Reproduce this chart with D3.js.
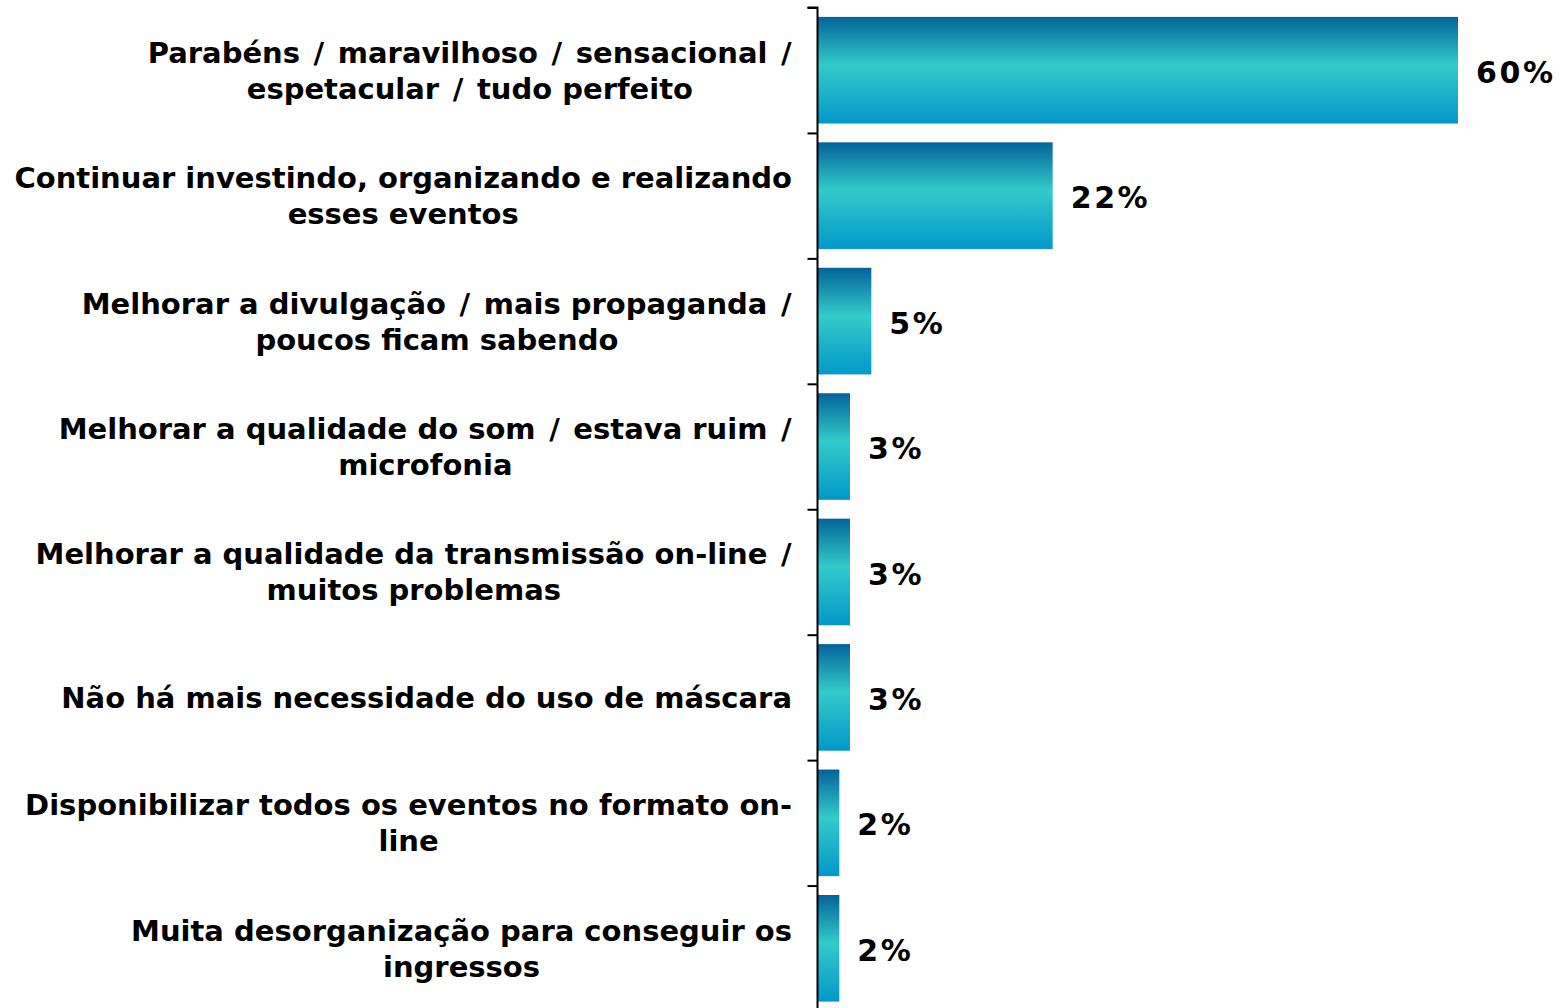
<!DOCTYPE html>
<html><head><meta charset="utf-8">
<script src="https://cdn.jsdelivr.net/npm/d3@7"></script>
<style>body{margin:0;background:#fff}svg{display:block}</style>
</head><body>
<script>
const categories = [
  ["Parabéns / maravilhoso / sensacional /", "espetacular / tudo perfeito"],
  ["Continuar investindo, organizando e realizando", "esses eventos"],
  ["Melhorar a divulgação / mais propaganda /", "poucos ficam sabendo"],
  ["Melhorar a qualidade do som / estava ruim /", "microfonia"],
  ["Melhorar a qualidade da transmissão on-line /", "muitos problemas"],
  ["Não há mais necessidade do uso de máscara"],
  ["Disponibilizar todos os eventos no formato on-", "line"],
  ["Muita desorganização para conseguir os", "ingressos"]
];
const values = [60, 22, 5, 3, 3, 3, 2, 2];
const valueLabels = ["60%", "22%", "5%", "3%", "3%", "3%", "2%", "2%"];

const W = 1560, H = 1008;
const svg = d3.select("body").append("svg").attr("width", W).attr("height", H);
const FONT = "'DejaVu Sans', Verdana, sans-serif";

const defs = svg.append("defs");
const grad = defs.append("linearGradient").attr("id", "barGrad")
  .attr("x1", 0).attr("y1", 0).attr("x2", 0).attr("y2", 1);
[[0, "#04639a"], [0.45, "#33cbca"], [1, "#0397ca"]].forEach(([o, c]) =>
  grad.append("stop").attr("offset", o).attr("stop-color", c));

const axisX = 818;
const x = d3.scaleLinear().domain([0, 60]).range([axisX, 1458]);
const y = d3.scaleBand().domain(d3.range(categories.length)).range([7.5, 1011]).paddingInner(0.15).paddingOuter(0.075);

svg.append("g").selectAll("rect").data(values).join("rect")
  .attr("x", axisX)
  .attr("y", (d, i) => y(i))
  .attr("width", d => x(d) - axisX)
  .attr("height", y.bandwidth())
  .attr("fill", "url(#barGrad)");

// axis
const yAxisScale = d3.scaleLinear().domain([0, categories.length]).range([7.5, 1011]);
const axis = d3.axisLeft(yAxisScale).tickValues(d3.range(categories.length + 1)).tickSize(10).tickFormat("");
const ag = svg.append("g").attr("transform", `translate(${axisX - 0.5},0)`).call(axis);
ag.select(".domain").attr("stroke", "#000").attr("stroke-width", 2).attr("d", `M-10,7.5H0V1011H-10`);
ag.selectAll(".tick line").attr("stroke", "#000").attr("stroke-width", 2);

// value labels
svg.append("g").selectAll("text").data(values).join("text")
  .attr("x", d => x(d) + 18)
  .attr("y", (d, i) => y(i) + y.bandwidth() / 2)
  .attr("dy", "0.42em")
  .attr("font-family", FONT).attr("font-weight", "bold").attr("font-size", 30)
  .attr("letter-spacing", 2.6)
  .attr("fill", "#000")
  .text((d, i) => valueLabels[i]);

// category labels
const lineH = 36;
const labelRight = 792;
const slashPad = 3.5;
categories.forEach((lines, i) => {
  const g = svg.append("g");
  const cy = y(i) + y.bandwidth() / 2;
  const y0 = cy - (lines.length - 1) * lineH / 2;
  const texts = lines.map((l, k) => {
    const t = g.append("text").attr("font-family", FONT).attr("font-weight", "bold").attr("font-size", 29)
      .attr("fill", "#000").attr("x", 0).attr("y", y0 + k * lineH).attr("dy", "0.36em");
    const parts = l.split("/");
    parts.forEach((p, j) => {
      if (j > 0) t.append("tspan").attr("dx", slashPad).text("/");
      const s = t.append("tspan").text(p);
      if (j > 0) s.attr("dx", slashPad);
    });
    return t;
  });
  const widths = texts.map(t => t.node().getBBox().width);
  const maxW = d3.max(widths);
  const center = labelRight - maxW / 2;
  texts.forEach((t, k) => t.attr("x", center - widths[k] / 2));
});
</script>
</body></html>
